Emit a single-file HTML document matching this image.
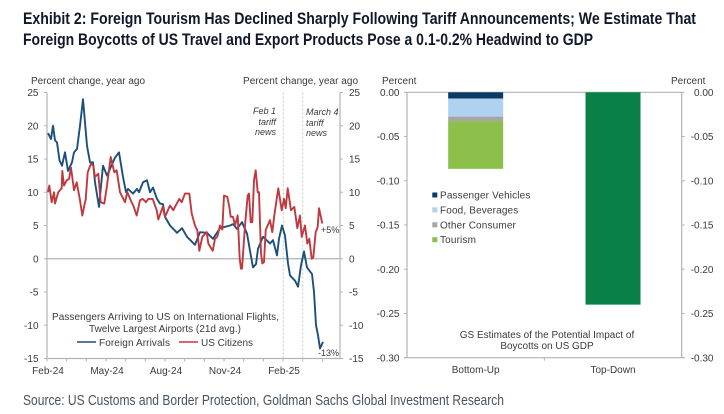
<!DOCTYPE html>
<html lang="en">
<head>
<meta charset="utf-8">
<title>Exhibit 2</title>
<style>
html,body{margin:0;padding:0;background:#fff;width:724px;height:414px;overflow:hidden}
svg{display:block}
text{font-family:"Liberation Sans",sans-serif;font-size:10px;fill:#3a3a3a}
.tt{font-family:"Liberation Sans",sans-serif;font-weight:700;font-size:17px;fill:#10182a}
.src{font-family:"Liberation Sans",sans-serif;font-size:14.5px;fill:#48545f}
.it{font-style:italic;font-size:9px}
</style>
</head>
<body>
<svg id="chart" xmlns="http://www.w3.org/2000/svg" width="724" height="414" viewBox="0 0 724 414">
  <rect width="724" height="414" fill="#fff"/>
  <text class="tt" x="23" y="24" textLength="673" lengthAdjust="spacingAndGlyphs">Exhibit 2: Foreign Tourism Has Declined Sharply Following Tariff Announcements; We Estimate That</text>
  <text class="tt" x="23" y="45" textLength="570" lengthAdjust="spacingAndGlyphs">Foreign Boycotts of US Travel and Export Products Pose a 0.1-0.2% Headwind to GDP</text>
  <text class="src" x="23" y="405" textLength="481" lengthAdjust="spacingAndGlyphs">Source: US Customs and Border Protection, Goldman Sachs Global Investment Research</text>

  <text x="31" y="84" textLength="114">Percent change, year ago</text>
  <text x="243" y="84" textLength="115">Percent change, year ago</text>
  <g id="lineAxes"></g>
  <g id="lineMarks"></g>
  <text class="it" x="276" y="114" text-anchor="end">Feb 1</text>
  <text class="it" x="276" y="125" text-anchor="end">tariff</text>
  <text class="it" x="276" y="135" text-anchor="end">news</text>
  <text class="it" x="306" y="115">March 4</text>
  <text class="it" x="306" y="126">tariff</text>
  <text class="it" x="306" y="136">news</text>
  <text x="52" y="320" textLength="227">Passengers Arriving to US on International Flights,</text>
  <text x="89" y="332" textLength="152">Twelve Largest Airports (21d avg.)</text>
  <line x1="77" x2="96" y1="342" y2="342" stroke="#1c4f7c" stroke-width="1.6"/>
  <text x="99" y="346" textLength="71">Foreign Arrivals</text>
  <line x1="179" x2="198" y1="342" y2="342" stroke="#c0393f" stroke-width="1.6"/>
  <text x="201" y="346" textLength="52">US Citizens</text>
  <text x="321" y="233" style="font-size:9px">+5%</text>
  <text x="318" y="356" style="font-size:9px">-13%</text>

  <text x="382" y="84">Percent</text>
  <text x="671" y="84">Percent</text>
  <g id="barAxes"></g>
  <g id="barMarks"></g>
  <g id="barLegend"></g>
  <text x="547" y="338" text-anchor="middle">GS Estimates of the Potential Impact of</text>
  <text x="547" y="349" text-anchor="middle">Boycotts on US GDP</text>
</svg>
<script>
// ---- Line chart data (observation index along the time axis, percent change y/y)
const foreignObs = [1,4,6,8,10,12.5,15,18,21,25,27,30,33,36,40,43,46,48,52,56,60,63,68,72,76,79,81,86,90,92,96,100,103,106,110,113,116,118,123,130,135,140,148,153,160,166,173,183,186,190,195,200,203,206,209,211,216,223,226,230,232,235,238,241,243,248,251,254,257,260,265,267,269,271,273,276];
const foreignValues = [18.9,18,20,17.8,17.5,14.8,14,16,13.2,14.5,16,16.5,20,24,17,14.5,14.5,11.5,7.8,14,12.5,13.5,15.2,16,12.3,10,10.5,9.8,10.5,10,11.5,11.8,10,10.7,9,8.3,8.2,6.3,5,3.9,4.6,3.3,2.1,4,3.9,3,4.6,5,5.2,4.5,5.5,3.8,1.2,-1.3,-0.8,1.5,3.3,2.3,2.8,0.5,3,5,3.5,-0.7,-2.5,-3.3,-4.2,-1,1.1,-1.3,-2.3,-5,-10,-11.5,-13.5,-12.5];
const usObs = [
  1,2.3,4.7,7,8,11.3,14.7,15.3,17,19.7,
  22,24,27,29.7,33,35.3,37.3,38.7,40.7,44,
  46.3,48,51.3,53.7,57.3,60,63.7,67.3,69.7,73,
  78,80.3,84,86.3,89.7,93,95.7,99,101.3,105.7,
  109.7,111.3,115.7,118,123,126.3,128.7,132.3,134.7,138,
  142.3,144.7,148,150.3,152.3,155.3,159.7,161.3,165.7,168,
  170.3,173,175.3,177,180.3,182.3,183.7,186,188,190.7,
  192.7,194,195,198,200.7,202,203.7,205.3,207,208.7,
  210.7,212,214,215.3,217,218.7,223,225.3,227.3,231.3,
  234.7,237,238.7,240.7,244,247.3,250.3,253,254.7,258,
  260.3,262.3,264.7,266.3,268.7,270.7,272,275.3];
const usValues = [
  10,11,8.5,10,8.3,10,10.6,13.2,11,11.8,
  12,13.7,10.3,11.5,8.8,6.5,8,8.9,13,14.3,
  14,12.3,12.8,8.5,8.3,11,15.3,13,13.3,10,
  8.5,10,8.7,8,6.5,8.8,9,8.5,9,9,
  7.3,5.9,7.8,6.3,8,7.3,8,9,8.5,9.8,
  9.8,6.8,5,4.3,1.2,3.3,4,2.3,1.2,3,
  3.3,5,4.4,9.5,9.3,7.8,6.3,6.3,5,6.5,
  0,-1.5,-1.5,5,9.5,9.8,5.5,5.5,11.8,13.3,
  10,10,0.8,-0.7,-0.5,4.3,5.8,4,6.5,10.6,
  7.3,9,7.6,10.6,7.3,7.8,4.6,6.5,3.3,5,
  2.3,3,0,0.2,4,4.8,7.6,5.3];
const lineYTicks = [25,20,15,10,5,0,-5,-10,-15];
const lineXTickLabels = ['Feb-24','May-24','Aug-24','Nov-24','Feb-25'];
const lineXLabelMonths = [0,3,6,9,12];
const lineMonthTicks = [0,1,2,3,4,5,6,7,8,9,10,11,12,13,14];
const eventObs = [236.3,255.7];

// ---- Bar chart data
const barCategories = ['Bottom-Up','Top-Down'];
const stackNames = ['Passenger Vehicles','Food, Beverages','Other Consumer','Tourism'];
const bottomUpValues = [-0.007,-0.0205,-0.005,-0.054];
const topDownValues = [-0.24];
const barYTicks = [0,-0.05,-0.10,-0.15,-0.20,-0.25,-0.30];

const NS = 'http://www.w3.org/2000/svg';
const AXIS = '#b3b3b3';
function mk(parent, tag, attrs, txt) {
  const e = document.createElementNS(NS, tag);
  for (const k in attrs) e.setAttribute(k, attrs[k]);
  if (txt !== undefined) e.textContent = txt;
  parent.appendChild(e);
  return e;
}

// Line chart scales
const lx0 = 47, lx1 = 340, ly0 = 92.5, ly1 = 358.5;
const obsPerMonth = 19.67;
const xL = o => lx0 + o * (lx1 - lx0) / 293;
const yL = v => ly0 + (25 - v) * (ly1 - ly0) / 40;

const la = document.getElementById('lineAxes');
const lm = document.getElementById('lineMarks');

lineYTicks.forEach(v => {
  const tl = mk(la, 'line', {x1: lx0 - 3, x2: lx0, y1: yL(v), y2: yL(v), stroke: AXIS});
  
  
  const tr = mk(la, 'line', {x1: lx1, x2: lx1 + 3, y1: yL(v), y2: yL(v), stroke: AXIS});
  
  
  const a = mk(la, 'text', {x: 38.5, y: yL(v) + 3.6, 'text-anchor': 'end'}, String(v));
  
  
  const b = mk(la, 'text', {x: 349, y: yL(v) + 3.6}, String(v));
  
  
});
lineMonthTicks.forEach(m => {
  const t = mk(la, 'line', {x1: xL(m * obsPerMonth), x2: xL(m * obsPerMonth), y1: ly1, y2: ly1 + 3, stroke: AXIS});
  
  
});
lineXTickLabels.forEach((s, i) => {
  const t = mk(la, 'text', {x: xL(lineXLabelMonths[i] * obsPerMonth) + 1, y: 374, 'text-anchor': 'middle'}, s);
  
  
});
const laL = mk(la, 'line', {x1: lx0, x2: lx0, y1: ly0, y2: ly1, stroke: AXIS, 'stroke-width': 1.2});


const laR = mk(la, 'line', {x1: lx1, x2: lx1, y1: ly0, y2: ly1, stroke: AXIS, 'stroke-width': 1.2});


const laB = mk(la, 'line', {x1: lx0, x2: lx1, y1: ly1, y2: ly1, stroke: AXIS, 'stroke-width': 1.2});


const laZ = mk(la, 'line', {x1: lx0, x2: lx1, y1: yL(0), y2: yL(0), stroke: AXIS, 'stroke-width': 1.2});


eventObs.forEach(o => {
  const d = mk(la, 'line', {x1: xL(o), x2: xL(o), y1: ly0, y2: ly1, stroke: '#c6c6c6', 'stroke-dasharray': '2 2'});
  
  
});

function pathFor(xs, ys) {
  return xs.map((o, i) => (i ? 'L' : 'M') + xL(o).toFixed(2) + ' ' + yL(ys[i]).toFixed(2)).join('');
}
const pf = mk(lm, 'path', {d: pathFor(foreignObs, foreignValues), fill: 'none', stroke: '#1c4f7c', 'stroke-width': 1.9, 'stroke-linejoin': 'round'});


const pu = mk(lm, 'path', {d: pathFor(usObs, usValues), fill: 'none', stroke: '#c0393f', 'stroke-width': 1.9, 'stroke-linejoin': 'round'});



// Bar chart scales
const bx0 = 407, bx1 = 681.7, by0 = 92.3, by1 = 357.7, barW = 55;
const yB = v => by0 + (-v) * (by1 - by0) / 0.30;
const xB = i => bx0 + (i + 0.5) * (bx1 - bx0) / barCategories.length;
const stackColors = ['#0b3a66', '#aed2ef', '#a6a6a6', '#8cc04a'];

const ba = document.getElementById('barAxes');
const bm = document.getElementById('barMarks');
const bl = document.getElementById('barLegend');

barYTicks.forEach(v => {
  const label = v.toFixed(2);
  const t1 = mk(ba, 'line', {x1: bx0 - 3, x2: bx0, y1: yB(v), y2: yB(v), stroke: AXIS});
  
  
  const t2 = mk(ba, 'line', {x1: bx1, x2: bx1 + 3, y1: yB(v), y2: yB(v), stroke: AXIS});
  
  
  const a = mk(ba, 'text', {x: 399.5, y: yB(v) + 3.6, 'text-anchor': 'end'}, label);
  
  
  const b = mk(ba, 'text', {x: 713.5, y: yB(v) + 3.6, 'text-anchor': 'end'}, label);
  
  
});
const baL = mk(ba, 'line', {x1: bx0, x2: bx0, y1: by0, y2: by1, stroke: AXIS, 'stroke-width': 1.2});


const baR = mk(ba, 'line', {x1: bx1, x2: bx1, y1: by0, y2: by1, stroke: AXIS, 'stroke-width': 1.2});


const baT = mk(ba, 'line', {x1: bx0, x2: bx1, y1: by0, y2: by0, stroke: AXIS, 'stroke-width': 1.2});


const baB = mk(ba, 'line', {x1: bx0 - 3, x2: bx1 + 3, y1: by1, y2: by1, stroke: AXIS, 'stroke-width': 1.2});


const baM = mk(ba, 'line', {x1: (bx0 + bx1) / 2, x2: (bx0 + bx1) / 2, y1: by1, y2: by1 + 3, stroke: AXIS});


barCategories.forEach((c, i) => {
  const t = mk(ba, 'text', {x: xB(i), y: 373, 'text-anchor': 'middle'}, c);
  
  
});

let running = 0;
bottomUpValues.forEach((v, i) => {
  const top = yB(running);
  running += v;
  const r = mk(bm, 'rect', {x: xB(0) - barW / 2, y: top, width: barW, height: yB(running) - top, fill: stackColors[i]});
  
  
});
topDownValues.forEach(v => {
  const r = mk(bm, 'rect', {x: xB(1) - barW / 2, y: yB(0), width: barW, height: yB(v) - yB(0), fill: '#0a8049'});
  
  
});

stackNames.forEach((s, i) => {
  const cy = 195 + i * 14.9;
  const sw = mk(bl, 'rect', {x: 432.3, y: cy - 2.5, width: 5, height: 5, fill: stackColors[i]});
  
  
  const t = mk(bl, 'text', {x: 440, y: cy + 3.5, 'letter-spacing': '0.15'}, s);
  
  
});
</script>
</body>
</html>
